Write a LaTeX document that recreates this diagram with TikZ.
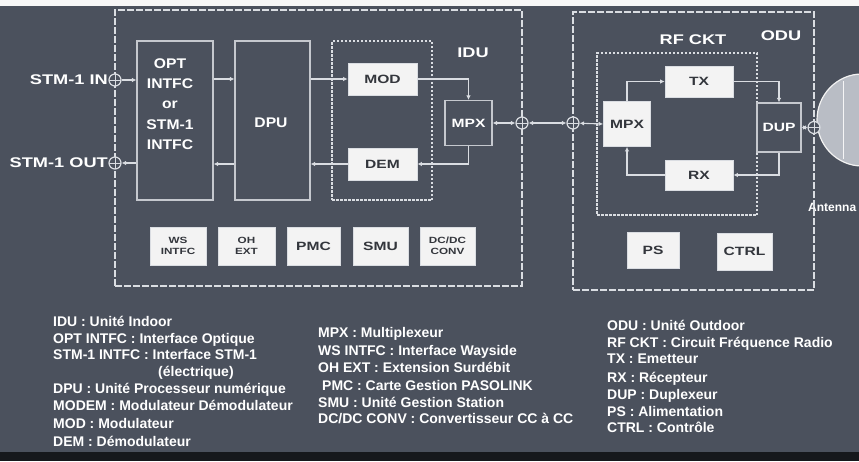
\documentclass[tikz,border=0pt]{standalone}
\usepackage{fontspec}
\setmainfont{Liberation Sans}
\newfontfamily\widefont[FakeStretch=1.3]{Liberation Sans}
\newfontfamily\midfont[FakeStretch=1.12]{Liberation Sans}
\usetikzlibrary{arrows.meta,calc}
\definecolor{bg}{HTML}{4B515D}
\definecolor{ln}{HTML}{DADDE2}
\definecolor{boxfill}{HTML}{F3F3F3}
\definecolor{boxtext}{HTML}{33363C}
\definecolor{antfill}{HTML}{B9BDC5}
\begin{document}
\begin{tikzpicture}[x=1pt,y=-1pt,
  outerbox/.style={draw=ln, line width=1.3pt, dash pattern=on 7pt off 2pt, inner sep=0pt},
  innerbox/.style={draw=ln, line width=1.2pt, dash pattern=on 2.5pt off 1.5pt, inner sep=0pt},
  graybox/.style={draw=ln!85!bg, line width=1.2pt, inner sep=0pt, text=white},
  wbox/.style={draw=ln, fill=boxfill, line width=0.8pt, inner sep=0pt, text=boxtext,
    font=\widefont\bfseries\fontsize{12}{13}\selectfont},
  sbox/.style={wbox, align=center, font=\widefont\bfseries\fontsize{9}{11}\selectfont},
  conn/.style={circle, draw=ln, line width=1.2pt, minimum size=12pt, inner sep=0pt, fill=bg,
    path picture={\draw[ln,line width=0.8pt] (path picture bounding box.north) -- (path picture bounding box.south)
      (path picture bounding box.west) -- (path picture bounding box.east);}},
  arr/.style={draw=ln, line width=1.1pt, -{Latex[length=4.5pt,width=4.5pt]}},
  darr/.style={draw=ln, line width=1.1pt, {Latex[length=4.5pt,width=4.5pt]}-{Latex[length=4.5pt,width=4.5pt]}},
  lbl/.style={text=white, inner sep=0pt, font=\widefont\bfseries\fontsize{14}{16}\selectfont},
  legend/.style={anchor=base west, text=white, inner sep=0pt, font=\bfseries\fontsize{14}{16}\selectfont}]

\useasboundingbox (0,0) rectangle (859,461);
\clip (0,0) rectangle (859,461);
\fill[bg] (0,0) rectangle (859,461);
\fill[white!94!gray] (0,0) rectangle (859,6);
\fill[black!70!bg] (0,452) rectangle (859,461);

% antenna
\fill[antfill, draw=white!90!gray, line width=1.2pt] (862,120) ellipse [x radius=45pt, y radius=46pt];
\draw[white!85!antfill, line width=1pt] (843,81) -- (843,159);
\node[text=white, inner sep=0pt, anchor=west, font=\bfseries\fontsize{12}{14}\selectfont] (antlbl) at (808,207) {Antenna};

% containers
\node[outerbox, minimum width=407pt, minimum height=276pt] (idu) at (318.5,148) {};
\node[outerbox, minimum width=241pt, minimum height=278pt] (odu) at (693.5,151) {};
\node[lbl] (idulbl) at (473,53) {IDU};
\node[lbl] (odulbl) at (781,36) {ODU};

% IDU blocks
\node[graybox, minimum width=76pt, minimum height=159pt] (opt) at (175,120.5) {};
\node[lbl, align=center, font=\midfont\bfseries\fontsize{14}{20.3}\selectfont] (optlbl) at (170,104) {OPT\\INTFC\\or\\STM-1\\INTFC};
\node[graybox, minimum width=75pt, minimum height=159pt] (dpu) at (272.5,120.5) {};
\node[lbl, font=\midfont\bfseries\fontsize{14}{16}\selectfont] (dpulbl) at (271,123) {DPU};
\node[innerbox, minimum width=100pt, minimum height=159pt] (modem) at (382,120.5) {};
\node[wbox, minimum width=69pt, minimum height=32pt] (mod) at (382.5,79) {MOD};
\node[wbox, minimum width=69pt, minimum height=32pt] (dem) at (382.5,164) {DEM};
\node[graybox, minimum width=47pt, minimum height=45pt, font=\widefont\bfseries\fontsize{12}{13}\selectfont] (mpxa) at (468.5,123) {MPX};

\node[sbox, minimum width=56pt, minimum height=38pt] (ws) at (178,246) {WS\\INTFC};
\node[sbox, minimum width=57pt, minimum height=38pt] (oh) at (246.5,246) {OH\\EXT};
\node[wbox, minimum width=53pt, minimum height=38pt] (pmc) at (313.5,246) {PMC};
\node[wbox, minimum width=55pt, minimum height=38pt] (smu) at (380.5,246) {SMU};
\node[sbox, minimum width=55pt, minimum height=38pt] (dcdc) at (447.5,246) {DC/DC\\CONV};

% ODU blocks
\node[innerbox, minimum width=160pt, minimum height=162pt] (rf) at (677,134) {};
\node[lbl] (rflbl) at (693,40) {RF CKT};
\node[wbox, minimum width=47pt, minimum height=45pt] (mpxb) at (627,124) {MPX};
\node[wbox, minimum width=68pt, minimum height=31pt] (tx) at (699,81.5) {TX};
\node[wbox, minimum width=68pt, minimum height=30pt] (rx) at (699,175) {RX};
\node[graybox, minimum width=44pt, minimum height=49pt, font=\widefont\bfseries\fontsize{12}{13}\selectfont] (dup) at (779,127.5) {DUP};
\node[wbox, minimum width=52pt, minimum height=36pt] (ps) at (653,250) {PS};
\node[wbox, minimum width=55pt, minimum height=37pt] (ctrl) at (744.5,251.5) {CTRL};

% connectors
\node[conn] (cin) at (115,80) {};
\node[conn] (cout) at (115,163) {};
\node[conn] (ca) at (522,123) {};
\node[conn] (cb) at (573,123) {};
\node[conn] (cc) at (814,127.5) {};
\node[lbl, anchor=east] (inlbl) at (108,80) {STM-1 IN};
\node[lbl, anchor=east] (outlbl) at (108,163) {STM-1 OUT};

% IDU signal paths
\draw[arr] (cin) -- (cin -| opt.west);
\draw[arr] (opt.east |- mod) -- (dpu.west |- mod);
\draw[arr] (dpu.east |- mod) -- (mod.west);
\draw[arr] (mod.east) -| (mpxa.north);
\draw[arr] (mpxa.south) |- (dem.east);
\draw[arr] (dem.west) -- (dem.west -| dpu.east);
\draw[arr] (dpu.west |- dem) -- (opt.east |- dem);
\draw[arr] (opt.west |- cout) -- (cout);
\draw[darr] (mpxa.east) -- (ca);
\draw[darr] (ca) -- (cb);
\draw[darr] (cb) -- (mpxb.west);

% ODU signal paths
\draw[arr] (mpxb.north) |- (tx.west);
\draw[arr] (tx.east) -| (dup.north);
\draw[arr] (dup.south) |- (rx.east);
\draw[arr] (rx.west) -| (mpxb.south);
\draw[darr] (dup.east) -- (cc);

% legend, left column
\node[legend] (l1) at (53,326) {IDU : Unité Indoor};
\node[legend] (l2) at (53,343) {OPT INTFC : Interface Optique};
\node[legend] (l3) at (53,359) {STM-1 INTFC : Interface STM-1};
\node[legend] (l4) at (158,376) {(électrique)};
\node[legend] (l5) at (53,393) {DPU : Unité Processeur numérique};
\node[legend] (l6) at (53,410) {MODEM : Modulateur Démodulateur};
\node[legend] (l7) at (53,428) {MOD : Modulateur};
\node[legend] (l8) at (53,446) {DEM : Démodulateur};

% legend, middle column
\node[legend] (m1) at (318,337) {MPX : Multiplexeur};
\node[legend] (m2) at (318,355) {WS INTFC : Interface Wayside};
\node[legend] (m3) at (318,372) {OH EXT : Extension Surdébit};
\node[legend] (m4) at (322,390) {PMC : Carte Gestion PASOLINK};
\node[legend] (m5) at (318,407) {SMU : Unité Gestion Station};
\node[legend] (m6) at (318,423) {DC/DC CONV : Convertisseur CC à CC};

% legend, right column
\node[legend] (r1) at (607,330) {ODU : Unité Outdoor};
\node[legend] (r2) at (607,347) {RF CKT : Circuit Fréquence Radio};
\node[legend] (r3) at (607,363) {TX : Emetteur};
\node[legend] (r4) at (607,382) {RX : Récepteur};
\node[legend] (r5) at (607,399) {DUP : Duplexeur};
\node[legend] (r6) at (607,416) {PS : Alimentation};
\node[legend] (r7) at (607,432) {CTRL : Contrôle};
\end{tikzpicture}
\end{document}
